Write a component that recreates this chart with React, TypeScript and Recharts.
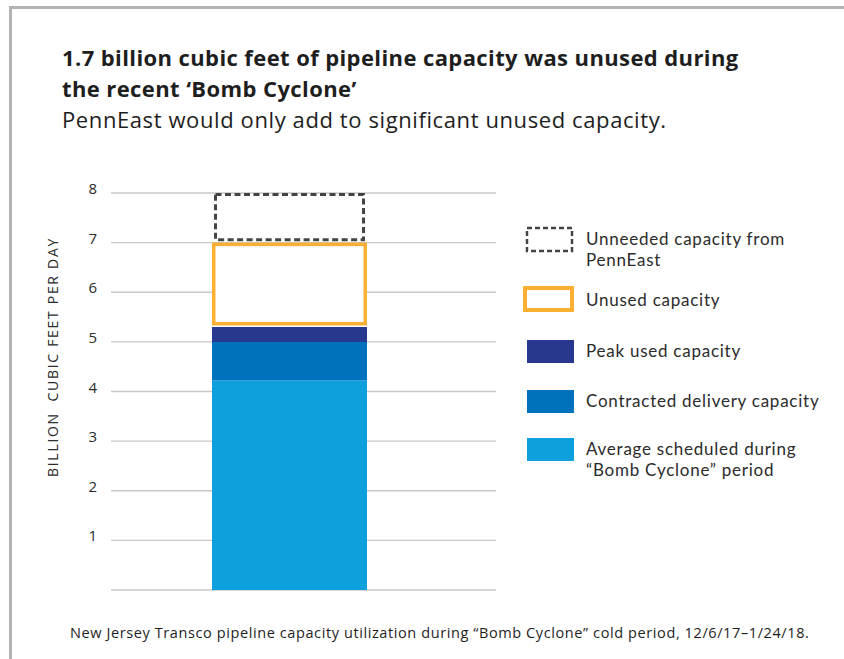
import React from 'react';
import { BarChart, Bar, XAxis, YAxis, CartesianGrid } from 'recharts';

// Capacity stack, bottom to top (billion cubic feet per day)
const categories = ['Transco NJ'];
const averageScheduled = [4.22];
const contractedDelivery = [0.78];
const peakUsed = [0.3];
const unusedCapacity = [1.7];
const unneededPennEast = [1.0];
const yTicks = [0, 1, 2, 3, 4, 5, 6, 7, 8];

const legendItems = [
  { key: 'unneeded', lines: ['Unneeded capacity from', 'PennEast'] },
  { key: 'unused', lines: ['Unused capacity'] },
  { key: 'peak', lines: ['Peak used capacity'] },
  { key: 'contracted', lines: ['Contracted delivery capacity'] },
  { key: 'average', lines: ['Average scheduled during', '\u201cBomb Cyclone\u201d period'] },
];

const data = categories.map((name, i) => ({
  name,
  average: averageScheduled[i],
  contracted: contractedDelivery[i],
  peak: peakUsed[i],
  unused: unusedCapacity[i],
  unneeded: unneededPennEast[i],
}));

const FONT = '"Open Sans", "Noto Sans", sans-serif';
const LEGEND_FONT = 'Lato, "Open Sans", sans-serif';
const TEXT = '#2b2b2b';
const LIGHT_BLUE = '#0ea0dc';
const MID_BLUE = '#0071bc';
const NAVY = '#28388f';
const ORANGE = '#fbb034';
const DASH = '#444444';

// orange outline drawn inside the segment bounds
const UnusedShape = (props: any) => {
  const { x, y, width, height } = props;
  const sw = 3.5;
  return (
    <rect
      x={x + sw / 2}
      y={y + sw / 2}
      width={width - sw}
      height={height - sw - 1.5}
      fill="#fff"
      stroke={ORANGE}
      strokeWidth={sw}
    />
  );
};

const UnneededShape = (props: any) => {
  const { x, y, width, height } = props;
  const sw = 3;
  return (
    <rect
      x={x + 2 + sw / 2}
      y={y + sw / 2}
      width={width - 4 - sw}
      height={height - sw - 1.5}
      fill="#fff"
      stroke={DASH}
      strokeWidth={sw}
      strokeDasharray="6 3.5"
    />
  );
};

const renderTick = (props: any) => {
  const { x, y, payload } = props;
  if (payload.value === 0) return <g />;
  return (
    <text x={x} y={y} dy={1} textAnchor="end" fill={TEXT} fontSize={15} fontFamily={FONT}>
      {payload.value}
    </text>
  );
};

const LegendSwatch = ({ kind }: { kind: string }) => {
  if (kind === 'unneeded') {
    return (
      <svg width={50} height={28} style={{ position: 'absolute', left: -62, top: -4 }}>
        <rect x={3} y={3} width={45} height={23} fill="#fff" stroke={DASH} strokeWidth={2.5} strokeDasharray="5 3" />
      </svg>
    );
  }
  if (kind === 'unused') {
    return (
      <svg width={52} height={28} style={{ position: 'absolute', left: -63, top: -4 }}>
        <rect x={2} y={2} width={47} height={22} fill="#fff" stroke={ORANGE} strokeWidth={4} />
      </svg>
    );
  }
  const fill = kind === 'peak' ? NAVY : kind === 'contracted' ? MID_BLUE : LIGHT_BLUE;
  return (
    <div style={{ position: 'absolute', left: -59, top: -1, width: 47, height: 23, background: fill }} />
  );
};

const legendTops = [229, 290, 341, 391, 439];

export default function App() {
  return (
    <div
      style={{
        position: 'absolute',
        left: 0,
        top: 0,
        width: 844,
        height: 659,
        background: '#fff',
        fontFamily: FONT,
        color: TEXT,
        overflow: 'hidden',
      }}
    >
      {/* frame */}
      <div style={{ position: 'absolute', left: 9, top: 6, width: 3, height: 653, background: '#b3b3b3' }} />
      <div style={{ position: 'absolute', left: 9, top: 6, width: 835, height: 3, background: '#b3b3b3' }} />

      <div style={{ position: 'absolute', left: 62, top: 42, fontSize: 22, lineHeight: '31px', color: '#1e1e1e' }}>
        <div style={{ fontWeight: 700, letterSpacing: 0.4, whiteSpace: 'nowrap' }}>1.7 billion cubic feet of pipeline capacity was unused during</div>
        <div style={{ fontWeight: 700, letterSpacing: 0.4 }}>the recent {'\u2018'}Bomb Cyclone{'\u2019'}</div>
        <div style={{ letterSpacing: 0.6, whiteSpace: 'nowrap' }}>PennEast would only add to significant unused capacity.</div>
      </div>

      <div
        style={{
          position: 'absolute',
          left: 52,
          top: 357,
          transform: 'translate(-50%, -50%) rotate(-90deg)',
          whiteSpace: 'nowrap',
          fontSize: 14,
          letterSpacing: 1.7,
          color: TEXT,
        }}
      >
        BILLION&nbsp; CUBIC FEET PER DAY
      </div>

      <div style={{ position: 'absolute', left: 0, top: 0 }}>
        <BarChart
          width={844}
          height={659}
          data={data}
          margin={{ top: 193, right: 348, bottom: 69, left: 0 }}
          barSize={155}
        >
          <CartesianGrid vertical={false} stroke="#c8c8c8" strokeWidth={1.3} />
          <XAxis dataKey="name" hide padding={{ left: 0, right: 29 }} />
          <YAxis
            width={111}
            domain={[0, 8]}
            ticks={yTicks}
            axisLine={false}
            tickLine={false}
            tickSize={0}
            tickMargin={14}
            tick={renderTick}
            interval={0}
          />
          <Bar dataKey="average" stackId="cap" fill={LIGHT_BLUE} isAnimationActive={false} />
          <Bar dataKey="contracted" stackId="cap" fill={MID_BLUE} isAnimationActive={false} />
          <Bar dataKey="peak" stackId="cap" fill={NAVY} isAnimationActive={false} />
          <Bar dataKey="unused" stackId="cap" shape={UnusedShape} isAnimationActive={false} />
          <Bar dataKey="unneeded" stackId="cap" shape={UnneededShape} isAnimationActive={false} />
        </BarChart>
      </div>

      {legendItems.map((item, i) => (
        <div
          key={item.key}
          style={{
            position: 'absolute',
            left: 586,
            top: legendTops[i],
            fontFamily: LEGEND_FONT,
            fontSize: 17,
            lineHeight: '20.5px',
            letterSpacing: 0.75,
            color: TEXT,
          }}
        >
          <LegendSwatch kind={item.key} />
          {item.lines.map((l) => (
            <div key={l} style={{ whiteSpace: 'nowrap' }}>{l}</div>
          ))}
        </div>
      ))}

      <div style={{ position: 'absolute', left: 70, top: 623, fontSize: 14.5, letterSpacing: 0.6, whiteSpace: 'nowrap', color: '#1e1e1e' }}>
        New Jersey Transco pipeline capacity utilization during {'\u201c'}Bomb Cyclone{'\u201d'} cold period, 12/6/17{'\u2013'}1/24/18.
      </div>
    </div>
  );
}
